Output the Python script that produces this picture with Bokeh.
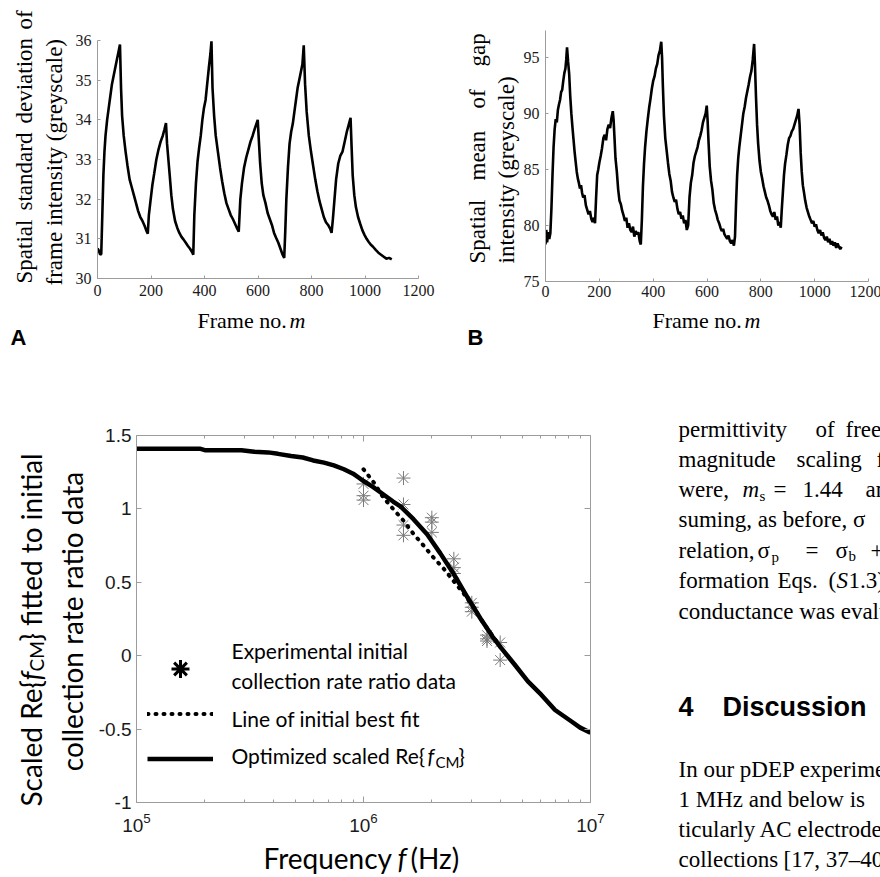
import math
from bokeh.plotting import figure
from bokeh.layouts import column, row
from bokeh.models import (Label, FixedTicker, LogAxis, LinearAxis, CustomJSTickFormatter,
                          NumeralTickFormatter, Legend, LegendItem, Range1d, ColumnDataSource)
from bokeh.embed import file_html
from bokeh.resources import INLINE

# ---------------- Panel A: spatial standard deviation of frame intensity ----------------
A_frame = [0, 5, 10, 14, 18, 22, 26, 30, 36, 42, 48, 54, 60, 66, 72, 78, 84,
           88, 92, 98, 105, 112, 120, 128, 136, 144, 152, 160, 168, 176, 182, 188,
           192, 198, 205, 212, 220, 228, 236, 244, 250, 256,
           260, 265, 270, 276, 282, 290, 298, 306, 314, 322, 330, 338, 346, 354, 358,
           362, 368, 374, 380, 386, 392, 398, 404, 410, 416, 422, 426,
           430, 436, 442, 450, 458, 466, 474, 482, 490, 498, 506, 514, 522, 528,
           534, 540, 548, 556, 564, 572, 580, 588, 594, 599,
           603, 608, 614, 620, 628, 636, 644, 652, 660, 668, 676, 684, 692, 698,
           702, 706, 712, 718, 724, 730, 736, 742, 748, 754, 760, 766, 771,
           776, 782, 790, 798, 806, 814, 822, 830, 838, 846, 854, 862, 870, 875,
           880, 886, 892, 900, 908, 916, 924, 932, 940, 946,
           950, 954, 960, 966, 974, 982, 990, 998, 1006, 1014, 1022, 1030, 1040,
           1050, 1060, 1070, 1080, 1090, 1100]
A_std = [30.76, 30.70, 30.60, 30.62, 31.6, 32.6, 33.2, 33.6, 34.0, 34.3, 34.6, 34.9, 35.1, 35.3, 35.5, 35.7, 35.9,
         34.8, 34.1, 33.6, 33.2, 32.85, 32.5, 32.3, 32.1, 31.9, 31.7, 31.55, 31.45, 31.33, 31.22, 31.13,
         31.6, 31.95, 32.35, 32.65, 33.0, 33.25, 33.45, 33.6, 33.75, 33.92,
         33.4, 33.0, 32.6, 32.1, 31.75, 31.45, 31.28, 31.15, 31.05, 30.98, 30.9, 30.82, 30.75, 30.66, 30.6,
         31.6, 32.4, 32.95, 33.3, 33.6, 34.0, 34.3, 34.5, 34.9, 35.3, 35.66, 35.98,
         34.8, 34.1, 33.6, 33.2, 32.8, 32.45, 32.15, 31.9, 31.75, 31.6, 31.5, 31.38, 31.26, 31.18,
         32.0, 32.4, 32.8, 33.05, 33.25, 33.45, 33.6, 33.78, 33.9, 34.0,
         33.5, 32.9, 32.4, 32.1, 31.9, 31.65, 31.5, 31.35, 31.15, 31.02, 30.9, 30.75, 30.6, 30.52,
         31.2, 32.0, 32.8, 33.4, 33.7, 33.9, 34.2, 34.5, 34.8, 35.0, 35.2, 35.4, 35.88,
         34.9, 34.2, 33.6, 33.2, 32.85, 32.5, 32.2, 31.95, 31.75, 31.55, 31.42, 31.35, 31.25, 31.15,
         31.5, 32.0, 32.5, 32.9, 33.1, 33.2, 33.45, 33.7, 33.9, 34.05,
         33.3, 32.6, 32.1, 31.8, 31.55, 31.38, 31.22, 31.1, 31.0, 30.92, 30.85, 30.8, 30.72,
         30.65, 30.6, 30.55, 30.5, 30.52, 30.48]

# ---------------- Panel B: spatial mean of gap intensity ----------------
B_frame = [0, 3, 6, 10, 14, 18, 22, 26, 30, 34, 38, 42, 46, 50, 54, 58, 62, 66, 70, 74, 77, 80,
           84, 88, 92, 96, 100, 104, 108, 112, 116, 120, 124, 128, 132, 136, 140, 145, 150, 155,
           160, 165, 170, 175, 180, 184,
           188, 192, 196, 200, 205, 210, 215, 220, 225, 230, 235, 240, 245, 250, 253,
           256, 260, 265, 270, 275, 280, 285, 290, 295, 300, 305, 310, 315, 320, 325, 330, 335,
           340, 345, 350, 354,
           358, 362, 366, 370, 375, 380, 385, 390, 395, 400, 405, 410, 415, 420, 425, 430,
           433, 436, 440, 445, 450, 455, 460, 465, 470, 475, 480, 485, 490, 495, 500, 505, 510,
           515, 520, 525, 530,
           535, 540, 545, 550, 555, 560, 565, 570, 575, 580, 585, 590, 595, 599,
           602, 606, 610, 615, 620, 625, 630, 635, 640, 645, 650, 655, 660, 665, 670, 675, 680,
           685, 690, 695, 700,
           704, 708, 712, 716, 720, 725, 730, 735, 740, 745, 750, 755, 760, 765, 770, 775,
           778, 782, 786, 790, 795, 800, 805, 810, 815, 820, 825, 830, 835, 840, 845, 850, 855,
           860, 865, 870, 874,
           878, 882, 886, 890, 895, 900, 905, 910, 915, 920, 925, 930, 935, 940,
           944, 948, 952, 956, 960, 965, 970, 975, 980, 985, 990, 995, 1000, 1005, 1010, 1015,
           1020, 1025, 1030, 1035, 1040, 1045, 1050, 1055, 1060, 1065, 1070, 1075, 1080, 1085,
           1090, 1095, 1100]
B_mean = [78.3, 79.6, 78.5, 79.4, 78.8, 79.3, 81.5, 84.5, 87.0, 88.6, 89.5, 89.2, 90.3, 90.8, 91.2, 91.9,
          92.1, 92.9, 93.6, 94.0, 94.8, 95.9,
          94.6, 93.5, 91.5, 90.0, 88.8, 87.7, 86.6, 85.7, 84.8, 84.2, 83.8, 83.3, 83.6, 82.9, 82.5,
          82.7, 81.8, 81.4, 81.0, 81.3, 80.6, 80.3, 80.7, 80.2,
          82.5, 84.5, 85.0, 85.6, 86.2, 86.9, 87.8, 88.1, 87.6, 88.6, 89.0, 88.7, 89.6, 90.2, 89.4,
          88.0, 86.0, 84.8, 83.2, 82.2, 81.9, 81.3, 80.9, 80.4, 80.7, 79.8, 80.2, 79.6, 79.4, 79.9,
          79.0, 79.5, 79.2, 79.4, 78.6, 78.3,
          80.5, 83.5, 85.5, 87.0, 88.4, 89.5, 90.5, 91.3, 92.2, 92.9, 93.3, 94.0, 94.4, 95.2, 95.6, 96.4,
          95.0, 92.5, 89.8, 87.8, 86.7, 85.6, 84.6, 84.0, 83.0, 82.5, 82.1, 82.3, 81.5, 81.0, 81.2,
          80.6, 80.9, 80.2, 80.5, 79.6, 80.0,
          82.5, 83.8, 84.5, 85.6, 86.2, 86.6, 87.0, 87.6, 88.0, 88.5, 89.2, 89.6, 90.0, 90.7,
          89.5, 87.3, 85.3, 84.0, 83.2, 82.0, 81.4, 81.0, 80.5, 80.2, 79.8, 79.5, 79.7, 79.2, 79.0,
          78.8, 79.1, 78.6, 78.4, 78.7, 78.2,
          79.0, 82.0, 84.5, 86.0, 87.0, 88.0, 89.0, 90.0, 90.6, 91.4, 92.0, 92.6, 93.3, 93.8, 94.8, 96.2,
          94.5, 91.5, 89.0, 87.3, 85.8, 84.8, 84.2, 83.5, 83.0, 82.5, 82.2, 81.8, 81.3, 81.0, 80.8,
          81.2, 80.5, 80.8, 80.0, 80.3, 79.8,
          81.5, 83.0, 84.5, 85.5, 86.3, 87.2, 87.8, 88.0, 88.4, 88.6, 89.0, 89.4, 89.8, 90.4,
          89.0, 86.5, 84.8, 83.6, 83.0, 82.2, 81.6, 81.2, 80.8, 80.5, 80.2, 80.4, 79.9, 80.1, 79.6,
          79.3, 79.6, 79.1, 79.4, 78.9, 78.7, 79.0, 78.5, 78.8, 78.3, 78.6, 78.2, 78.5, 78.0, 78.4,
          78.1, 77.9, 78.1]

# ---------------- Panel C: scaled Re{f_CM} vs frequency ----------------
C_opt_freq = [1.0e5, 1.3e5, 1.6e5, 1.9e5, 2.0e5, 2.5e5, 2.9e5, 3.3e5, 3.8e5, 4.2e5, 4.8e5, 5.4e5,
              6.0e5, 6.7e5, 7.4e5, 8.2e5, 9.0e5, 1.0e6, 1.1e6, 1.22e6, 1.35e6, 1.46e6, 1.66e6,
              1.91e6, 2.18e6, 2.49e6, 2.87e6, 3.27e6, 3.7e6, 4.03e6, 4.63e6, 5.3e6, 6.08e6,
              6.98e6, 8.28e6, 9.0e6, 1.0e7]
C_opt = [1.41, 1.41, 1.41, 1.41, 1.40, 1.40, 1.40, 1.39, 1.385, 1.375, 1.36, 1.35,
         1.33, 1.315, 1.296, 1.27, 1.24, 1.19, 1.15, 1.10, 1.05, 1.015, 0.93,
         0.825, 0.697, 0.56, 0.398, 0.255, 0.13, 0.055, -0.06, -0.175, -0.267,
         -0.37, -0.45, -0.49, -0.525]
C_init_freq = [1.0e6, 1.11e6, 1.22e6, 1.35e6, 1.5e6, 1.66e6, 1.84e6, 2.03e6, 2.25e6, 2.49e6,
               2.76e6, 3.05e6, 3.38e6, 3.74e6, 4.0e6]
C_init = [1.27, 1.18, 1.08, 1.00, 0.92, 0.83, 0.75, 0.67, 0.595, 0.51,
          0.425, 0.33, 0.22, 0.126, 0.06]
C_exp_freq = [1e6, 1e6, 1e6, 1.5e6, 1.5e6, 1.5e6, 1.5e6, 2e6, 2e6, 2e6, 2.5e6, 2.5e6, 2.5e6,
              3e6, 3e6, 3e6, 3.5e6, 3.5e6, 3.5e6, 4e6, 4e6]
C_exp_ratio = [1.17, 1.09, 1.06, 1.21, 1.03, 0.89, 0.82, 0.94, 0.91, 0.84, 0.66, 0.60, 0.56,
               0.36, 0.33, 0.30, 0.14, 0.115, 0.10, 0.09, -0.03]

AB_xticks = [0, 200, 400, 600, 800, 1000, 1200]
A_yticks = [30, 31, 32, 33, 34, 35, 36]
B_yticks = [75, 80, 85, 90, 95]
C_xticks = [1e5, 1e6, 1e7]
C_xminor = [2e5, 3e5, 4e5, 5e5, 6e5, 7e5, 8e5, 9e5, 2e6, 3e6, 4e6, 5e6, 6e6, 7e6, 8e6, 9e6]
C_yticks = [-1, -0.5, 0, 0.5, 1, 1.5]

GREY = "#9c9c9c"
SERIF = "Liberation Serif"
SANS = "Liberation Sans"
NARROW = "Liberation Sans Narrow"
HUMAN = "Lato"
UP = math.pi / 2
LIFT = 0.36   # horizontal labels render about this fraction of their size lower; compensate


def put(fig, origin, x, y, text, size, font, style="normal", align="left",
        baseline="alphabetic", angle=0.0, color="black"):
    """Place a text at page position (x, y); origin = page position of the frame's bottom-left."""
    fl, fb = origin
    if angle == 0.0 and baseline == "alphabetic":
        y = y - LIFT * size
    fig.add_layout(Label(x=x - fl, y=fb - y, x_units="screen", y_units="screen", text=text,
                         text_font=font, text_font_size=f"{size}px", text_font_style=style,
                         text_align=align, text_baseline=baseline, angle=angle,
                         text_color=color))


def style_axis(ax, size, font, tick_in, standoff, minor_in=0):
    ax.axis_line_color = GREY
    ax.axis_line_width = 1
    ax.major_tick_line_color = GREY
    ax.minor_tick_line_color = GREY
    ax.major_tick_in = tick_in
    ax.major_tick_out = 0
    ax.minor_tick_in = minor_in
    ax.minor_tick_out = 0
    ax.major_label_text_font = font
    ax.major_label_text_font_size = f"{size}px"
    ax.major_label_text_color = "#1a1a1a"
    ax.major_label_standoff = standoff


def base_fig(**kw):
    p = figure(output_backend="svg", toolbar_location=None, **kw)
    p.title.visible = False
    p.xgrid.visible = False
    p.ygrid.visible = False
    p.outline_line_color = None
    p.background_fill_color = "white"
    p.border_fill_color = "white"
    return p


def text_fig(w, h):
    t = figure(width=w, height=h, min_border=0, x_axis_location=None, y_axis_location=None,
               x_range=Range1d(0, 1), y_range=Range1d(0, 1), output_backend="svg",
               toolbar_location=None)
    t.title.visible = False
    t.grid.visible = False
    t.outline_line_color = None
    t.background_fill_color = "white"
    t.border_fill_color = "white"
    return t


def solo(fig):
    # wrap so that Bokeh does not align this figure's frame with its neighbours
    return column(fig, spacing=0)


ROW1 = 305

# ================= top row =================
la = text_fig(70, ROW1)
OLA = (0, ROW1)
for word, y0 in [("Spatial", 283), ("standard", 210), ("deviation", 123), ("of", 29)]:
    put(la, OLA, 24, y0, word, 23, SERIF, baseline="middle", angle=UP)
put(la, OLA, 54, 285, "frame intensity (greyscale)", 23, SERIF, baseline="middle", angle=UP)

pa = base_fig(frame_width=321, frame_height=238, min_border_left=27, min_border_right=22,
              min_border_top=40, min_border_bottom=ROW1 - 278,
              x_range=Range1d(0, 1200), y_range=Range1d(30, 36))
pa.line(A_frame, A_std, line_color="black", line_width=2.6)
pa.xaxis.ticker = FixedTicker(ticks=AB_xticks)
pa.yaxis.ticker = FixedTicker(ticks=A_yticks)
style_axis(pa.xaxis[0], 16, NARROW, 3, 6)
style_axis(pa.yaxis[0], 16, NARROW, 3, 6)

lb = text_fig(80, ROW1)
OLB = (440, ROW1)
for word, y0 in [("Spatial", 263), ("mean", 180), ("of", 108), ("gap", 66)]:
    put(lb, OLB, 477, y0, word, 23, SERIF, baseline="middle", angle=UP)
put(lb, OLB, 506, 263, "intensity (greyscale)", 23, SERIF, baseline="middle", angle=UP)

pb = base_fig(frame_width=323, frame_height=251, min_border_left=24, min_border_right=13,
              min_border_top=30, min_border_bottom=ROW1 - 281,
              x_range=Range1d(0, 1200), y_range=Range1d(75, 97.4))
pb.line(B_frame, B_mean, line_color="black", line_width=2.6)
pb.xaxis.ticker = FixedTicker(ticks=AB_xticks)
pb.yaxis.ticker = FixedTicker(ticks=B_yticks)
style_axis(pb.xaxis[0], 16, NARROW, 3, 4)
style_axis(pb.yaxis[0], 16, NARROW, 3, 6)

xa = text_fig(440, 353 - ROW1)
OXA = (0, 353)
put(xa, OXA, 197, 328, "Frame no.", 22, SERIF)
put(xa, OXA, 289, 328, "m", 22, SERIF, style="italic")
put(xa, OXA, 10, 345, "A", 22, SANS, style="bold")
xb = text_fig(440, 353 - ROW1)
OXB = (440, 353)
put(xb, OXB, 652, 328, "Frame no.", 22, SERIF)
put(xb, OXB, 744, 328, "m", 22, SERIF, style="italic")
put(xb, OXB, 467, 345, "B", 22, SANS, style="bold")

# ================= bottom row =================
lc = text_fig(90, 524)
OLC = (0, 877)
put(lc, OLC, 30, 806, "Scaled Re{", 28, HUMAN, baseline="middle", angle=UP)
put(lc, OLC, 30, 680, "f", 28, HUMAN, style="italic", baseline="middle", angle=UP)
put(lc, OLC, 36, 671, "CM", 19, HUMAN, baseline="middle", angle=UP)
put(lc, OLC, 30, 641, "} fitted to initial", 28, HUMAN, baseline="middle", angle=UP)
put(lc, OLC, 71, 621, "collection rate ratio data", 28, HUMAN, align="center", baseline="middle",
    angle=UP)

pc = base_fig(x_axis_type="log", frame_width=454, frame_height=367, min_border_left=46,
              min_border_right=16, min_border_top=82, min_border_bottom=40,
              x_range=Range1d(1e5, 1e7), y_range=Range1d(-1, 1.5))
exp_src = ColumnDataSource(data=dict(f=C_exp_freq, r=C_exp_ratio))
pc.scatter("f", "r", source=exp_src, marker="asterisk", size=14, line_color="#7a7a7a", line_width=1)
# bold black key for the legend only (not drawn in the plot itself)
r_star = pc.scatter("f", "r", source=exp_src, marker="asterisk", size=18, line_color="black",
                    line_width=3, visible=False)
r_init = pc.line(C_init_freq, C_init, line_color="black", line_width=4, line_dash="1 7",
                 line_cap="round")
r_opt = pc.line(C_opt_freq, C_opt, line_color="black", line_width=4.5)

bx = pc.xaxis[0]
bx.ticker = FixedTicker(ticks=C_xticks, minor_ticks=C_xminor)
style_axis(bx, 19, SANS, 6, 10, minor_in=3)
ly = pc.yaxis[0]
ly.ticker = FixedTicker(ticks=C_yticks)
ly.formatter = NumeralTickFormatter(format="0.[0]")
style_axis(ly, 19, SANS, 5, 5)

top = LogAxis(ticker=FixedTicker(ticks=C_xticks, minor_ticks=C_xminor),
              formatter=CustomJSTickFormatter(code="return ''"))
style_axis(top, 10, SANS, 6, 0, minor_in=3)
pc.add_layout(top, "above")
right = LinearAxis(ticker=FixedTicker(ticks=C_yticks), formatter=CustomJSTickFormatter(code="return ''"))
style_axis(right, 10, SANS, 6, 0)
pc.add_layout(right, "right")

legend = Legend(items=[LegendItem(label=" ", renderers=[r_star]),
                       LegendItem(label=" ", renderers=[r_init]),
                       LegendItem(label=" ", renderers=[r_opt])],
                location=(11, 21.5), glyph_width=66, glyph_height=45, spacing=0, padding=0,
                label_standoff=0, label_text_font_size="1px", border_line_color=None,
                background_fill_alpha=0, margin=0)
pc.add_layout(legend)

OC = (136, 802)
put(pc, OC, 231, 658, "Experimental initial", 21, HUMAN)
put(pc, OC, 231, 688, "collection rate ratio data", 21, HUMAN)
put(pc, OC, 231, 726, "Line of initial best fit", 21, HUMAN)
put(pc, OC, 231, 763, "Optimized scaled Re{", 21, HUMAN)
put(pc, OC, 427, 763, "f", 21, HUMAN, style="italic")
put(pc, OC, 435, 767, "CM", 15, HUMAN)
put(pc, OC, 458, 763, "}", 21, HUMAN)

xc = text_fig(516, 35)
OXC = (90, 877)
put(xc, OXC, 263, 868, "Frequency", 28, HUMAN)
put(xc, OXC, 397, 868, "f", 28, HUMAN, style="italic")
put(xc, OXC, 410, 868, "(Hz)", 28, HUMAN)

pt = text_fig(274, 524)
OT = (606, 877)
FS = 23
body = [
    (678, 437, "permittivity", "normal", FS), (815, 437, "of", "normal", FS), (845, 437, "free", "normal", FS),
    (678, 467, "magnitude", "normal", FS), (796, 467, "scaling", "normal", FS), (876, 467, "factors", "normal", FS),
    (678, 497, "were,", "normal", FS), (742, 497, "m", "italic", FS), (759, 501, "s", "normal", 15),
    (773, 497, "=", "normal", FS), (802, 497, "1.44", "normal", FS), (865, 497, "and", "normal", FS),
    (678, 527, "suming, as before, σ", "normal", FS),
    (678, 558, "relation,", "normal", FS), (757, 558, "σ", "normal", FS), (771, 562, "p", "normal", 15),
    (805, 558, "=", "normal", FS), (835, 558, "σ", "normal", FS), (848, 561, "b", "normal", 15),
    (870, 558, "+", "normal", FS),
    (678, 588, "formation", "normal", FS), (777, 588, "Eqs.", "normal", FS), (828, 588, "(", "normal", FS),
    (836, 588, "S", "italic", FS), (848, 588, "1.3)", "normal", FS),
    (678, 619, "conductance was evaluated", "normal", FS),
    (678, 777, "In our pDEP experiments", "normal", FS),
    (678, 807, "1 MHz and below is", "normal", FS),
    (678, 837, "ticularly AC electrodes", "normal", FS),
    (678, 867, "collections", "normal", FS), (783, 867, "[17, 37–40]", "normal", FS),
]
for x, y, t, st, fs in body:
    put(pt, OT, x, y, t, fs, SERIF, style=st)
put(pt, OT, 678, 716, "4", 27, SANS, style="bold")
put(pt, OT, 722, 716, "Discussion", 27, SANS, style="bold")

layout = column(
    row(solo(la), solo(pa), solo(lb), solo(pb), spacing=0),
    row(solo(xa), solo(xb), spacing=0),
    row(solo(lc), column(solo(pc), solo(xc), spacing=0), solo(pt), spacing=0),
    spacing=0,
)
open("out.html", "w").write(file_html(layout, INLINE))
